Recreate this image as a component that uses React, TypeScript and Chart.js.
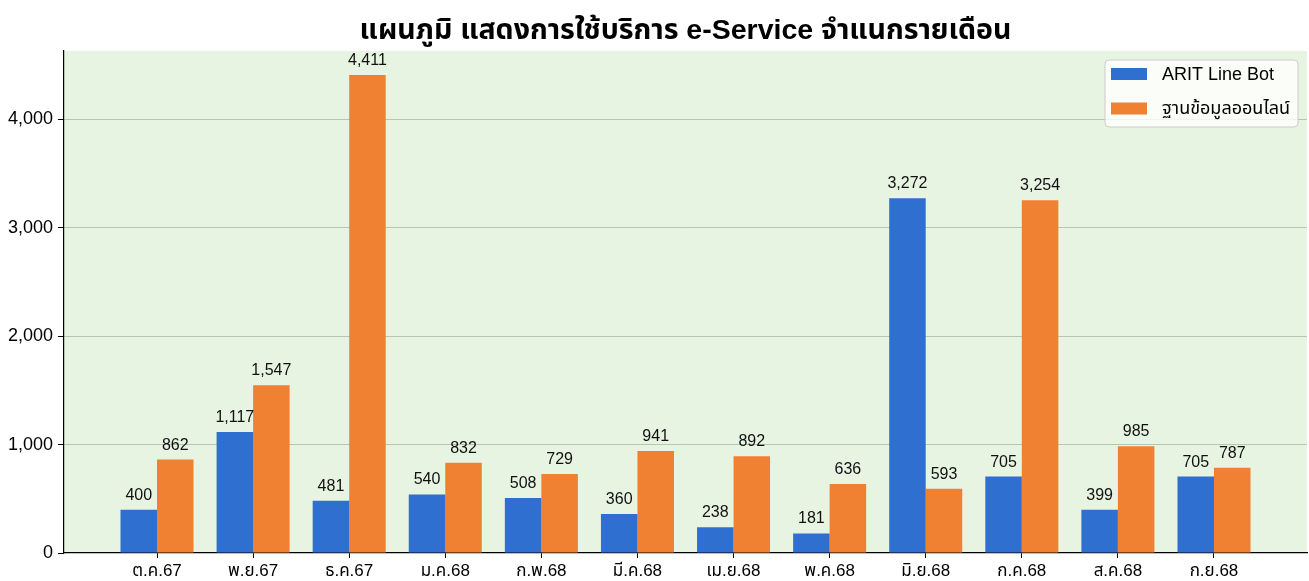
import React, { useEffect, useRef } from "react";
import { Chart, registerables } from "chart.js";

Chart.register(...registerables);

const months = ["ต.ค.67", "พ.ย.67", "ธ.ค.67", "ม.ค.68", "ก.พ.68", "มี.ค.68", "เม.ย.68", "พ.ค.68", "มิ.ย.68", "ก.ค.68", "ส.ค.68", "ก.ย.68"];
const lineBot = [400, 1117, 481, 540, 508, 360, 238, 181, 3272, 705, 399, 705];
const onlineDb = [862, 1547, 4411, 832, 729, 941, 892, 636, 593, 3254, 985, 787];
const yTicks = [0, 1000, 2000, 3000, 4000];
const seriesNames = ["ARIT Line Bot", "ฐานข้อมูลออนไลน์"];
const titleText = "แผนภูมิ แสดงการใช้บริการ e-Service จำแนกรายเดือน";

const BLUE = "#2f6fd0";
const ORANGE = "#f08032";
const PLOT_BG = "#e8f4e2";
const FONT = "'Liberation Sans', Arial, 'Noto Sans Thai', 'Noto Sans', sans-serif";

const fmt = (v: number) => v.toLocaleString("en-US");

const bgPlugin = {
  id: "plotBg",
  beforeDraw(chart: any) {
    const { ctx, chartArea } = chart;
    ctx.save();
    ctx.fillStyle = PLOT_BG;
    ctx.fillRect(chartArea.left, chartArea.top, chartArea.right - chartArea.left, chartArea.bottom - chartArea.top);
    ctx.restore();
  },
};

const labelsPlugin = {
  id: "valueLabels",
  afterDatasetsDraw(chart: any) {
    const { ctx } = chart;
    ctx.save();
    ctx.font = `16px ${FONT}`;
    ctx.fillStyle = "#111";
    ctx.textAlign = "center";
    ctx.textBaseline = "alphabetic";
    chart.data.datasets.forEach((ds: any, di: number) => {
      const meta = chart.getDatasetMeta(di);
      meta.data.forEach((bar: any, i: number) => {
        const v = ds.data[i].y;
        ctx.fillText(fmt(v), bar.x, bar.y - 10);
      });
    });
    ctx.restore();
  },
};

const titleLegendPlugin = {
  id: "titleLegend",
  afterDraw(chart: any) {
    const { ctx, chartArea } = chart;
    ctx.save();
    // title
    ctx.font = `bold 28.5px ${FONT}`;
    ctx.fillStyle = "#000";
    ctx.textAlign = "center";
    ctx.textBaseline = "middle";
    ctx.fillText(titleText, (chartArea.left + chartArea.right) / 2, 31);

    // legend
    ctx.font = `18px ${FONT}`;
    const textW = Math.max(...seriesNames.map((n) => ctx.measureText(n).width));
    const w = textW + 57 + 8;
    const h = 67;
    const x = chartArea.right - 9 - w;
    const y = chartArea.top + 9;
    const r = 4;
    ctx.beginPath();
    ctx.moveTo(x + r, y);
    ctx.lineTo(x + w - r, y);
    ctx.quadraticCurveTo(x + w, y, x + w, y + r);
    ctx.lineTo(x + w, y + h - r);
    ctx.quadraticCurveTo(x + w, y + h, x + w - r, y + h);
    ctx.lineTo(x + r, y + h);
    ctx.quadraticCurveTo(x, y + h, x, y + h - r);
    ctx.lineTo(x, y + r);
    ctx.quadraticCurveTo(x, y, x + r, y);
    ctx.closePath();
    ctx.fillStyle = "rgba(255,255,255,0.8)";
    ctx.fill();
    ctx.strokeStyle = "#cccccc";
    ctx.lineWidth = 1;
    ctx.stroke();
    const colors = [BLUE, ORANGE];
    seriesNames.forEach((n, i) => {
      const cy = y + 14 + i * 34.5;
      ctx.fillStyle = colors[i];
      ctx.fillRect(x + 6, cy - 6, 36, 12);
      ctx.fillStyle = "#000";
      ctx.textAlign = "left";
      ctx.textBaseline = "middle";
      ctx.fillText(n, x + 57, cy + 1);
    });
    ctx.restore();
  },
};

export default function App() {
  const ref = useRef<HTMLCanvasElement>(null);
  useEffect(() => {
    if (!ref.current) return;
    const chart = new Chart(ref.current, {
      type: "bar",
      data: {
        datasets: [
          {
            label: seriesNames[0],
            data: lineBot.map((v, i) => ({ x: i, y: v })),
            backgroundColor: BLUE,
          },
          {
            label: seriesNames[1],
            data: onlineDb.map((v, i) => ({ x: i, y: v })),
            backgroundColor: ORANGE,
          },
        ],
      },
      options: {
        animation: false,
        responsive: false,
        devicePixelRatio: 1,
        categoryPercentage: 0.76,
        barPercentage: 1,
        layout: { padding: { left: 0, right: 2, top: 51, bottom: 0 } },
        plugins: {
          legend: { display: false },
          title: { display: false },
          tooltip: { enabled: false },
        },
        scales: {
          x: {
            type: "linear",
            min: -0.968,
            max: 11.968,
            offset: false,
            afterBuildTicks: (axis: any) => {
              axis.ticks = months.map((_, i) => ({ value: i }));
            },
            afterFit: (axis: any) => {
              axis.height = 28;
            },
            ticks: {
              autoSkip: false,
              maxRotation: 0,
              padding: 3,
              color: "#000",
              font: { size: 17, family: FONT },
              callback: (v: any) => months[v] ?? "",
            },
            grid: { offset: false, drawOnChartArea: false, drawTicks: true, tickLength: 5, tickColor: "#000" },
            border: { display: true, color: "#000", width: 1.2 },
          },
          y: {
            min: 0,
            max: 4631.55,
            afterBuildTicks: (axis: any) => {
              axis.ticks = yTicks.map((v) => ({ value: v }));
            },
            afterFit: (axis: any) => {
              axis.width = 64;
            },
            ticks: {
              padding: 5,
              color: "#000",
              font: { size: 18, family: FONT },
              callback: (v: any) => fmt(Number(v)),
            },
            grid: {
              drawTicks: true,
              tickLength: 6,
              tickColor: "#000",
              color: (c: any) => (c.tick && c.tick.value === 0 ? "rgba(0,0,0,0)" : "#b4c6b0"),
              lineWidth: 1,
            },
            border: { display: true, color: "#000", width: 1.2 },
          },
        },
      },
      plugins: [bgPlugin, labelsPlugin, titleLegendPlugin],
    } as any);
    return () => chart.destroy();
  }, []);
  return (
    <div style={{ position: "absolute", left: 0, top: 0, width: 1309, height: 581, background: "#fff" }}>
      <canvas ref={ref} width={1309} height={581} style={{ display: "block" }} />
    </div>
  );
}
